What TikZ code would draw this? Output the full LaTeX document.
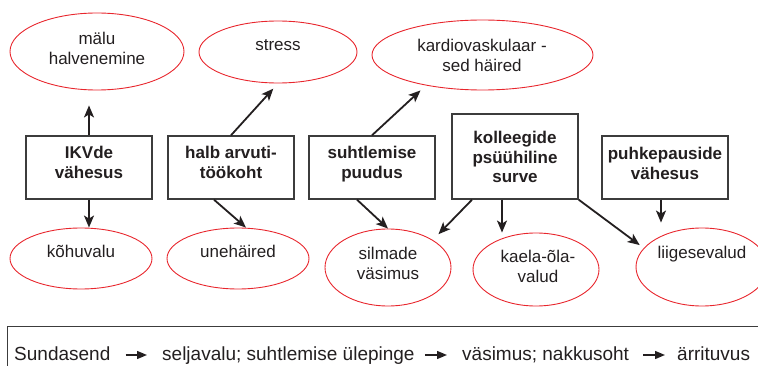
\documentclass[tikz,border=0pt]{standalone}
\usepackage{fontspec}
\setmainfont{Liberation Sans}
\usetikzlibrary{shapes.geometric,arrows.meta,calc}
\definecolor{ink}{HTML}{231F20}
\definecolor{ered}{HTML}{E8262D}
\definecolor{boxgray}{HTML}{3C3C3C}
\newcommand\mlines[1]{\begin{tabular}[t]{@{}c@{}}#1\end{tabular}}
\tikzset{
 ell/.style={draw=ered, line width=0.9pt, ellipse, inner sep=0pt},
 etext/.style={anchor=base, inner sep=0pt, text=ink, font=\fontsize{17}{19.5}\selectfont},
 box/.style={draw=boxgray, line width=1.4pt, rectangle, minimum width=126pt, minimum height=63pt, inner sep=0pt},
 btext/.style={anchor=base, inner sep=0pt, text=ink, font=\bfseries\fontsize{17}{20}\selectfont},
 arr/.style={draw=ink, line width=1.8pt, -{Stealth[length=12pt,width=10pt,inset=3pt]}},
 stext/.style={anchor=base west, inner sep=0pt, text=ink, font=\fontsize{19}{22}\selectfont, text height=14pt, text depth=4pt},
 sarr/.style={draw=ink, line width=1.4pt, -{Triangle[length=10pt,width=8pt]}},
 legendbox/.style={draw=boxgray, line width=1.4pt, rectangle, anchor=north west, minimum width=790pt, minimum height=80pt, inner sep=0pt},
}
\begin{document}
\begin{tikzpicture}[x=1pt,y=-1pt]
\useasboundingbox (0,0) rectangle (758,366);
\clip (0,0) rectangle (758,366);

% ellipses (top row)
\node[ell, minimum width=174pt, minimum height=77pt] (malu) at (97,51.5) {};
\node[etext] (malut) at (97,45) {\mlines{mälu\\halvenemine}};
\node[ell, minimum width=158pt, minimum height=62pt] (stress) at (278,52) {};
\node[etext] (stresst) at (278,51) {stress};
\node[ell, minimum width=221pt, minimum height=70pt] (kardio) at (482.5,55) {};
\node[etext] (kardiot) at (482,52) {\mlines{kardiovaskulaar -\\sed häired}};

% ellipses (bottom row)
\node[ell, minimum width=142pt, minimum height=61pt] (kohu) at (81,258.5) {};
\node[etext] (kohut) at (81,258) {kõhuvalu};
\node[ell, minimum width=142pt, minimum height=61pt] (une) at (238,258.5) {};
\node[etext] (unet) at (238,258) {unehäired};
\node[ell, minimum width=126pt, minimum height=77pt] (silm) at (388,267.5) {};
\node[etext] (silmt) at (388,260) {\mlines{silmade\\väsimus}};
\node[ell, minimum width=126pt, minimum height=73pt] (kaela) at (536,269.5) {};
\node[etext] (kaelat) at (538,263) {\mlines{kaela-õla-\\valud}};
\node[ell, minimum width=132pt, minimum height=78pt] (liig) at (702,267) {};
\node[etext] (liigt) at (702,259) {liigesevalud};

% boxes
\node[box] (ikv) at (89,167.5) {};
\node[btext] (ikvt) at (89,159) {\mlines{IKVde\\vähesus}};
\node[box] (halb) at (231,167.5) {};
\node[btext] (halbt) at (231,159) {\mlines{halb arvuti-\\töökoht}};
\node[box] (suht) at (372,167.5) {};
\node[btext] (suhtt) at (372,159) {\mlines{suhtlemise\\puudus}};
\node[box, minimum height=85pt] (koll) at (515,156.5) {};
\node[btext, font=\bfseries\fontsize{17}{19.5}\selectfont] (kollt) at (515,144) {\mlines{kolleegide\\psüühiline\\surve}};
\node[box] (puhk) at (665,167.5) {};
\node[btext, font=\bfseries\fontsize{17}{19.5}\selectfont] (puhkt) at (665,160) {\mlines{puhkepauside\\vähesus}};

% arrows
\draw[arr, shorten >=15pt] (ikv.north) -- (ikv.north |- malu.south);
\draw[arr] (ikv.south) -- (ikv.south |- kohu.north);
\draw[arr, shorten >=7pt] (halb.north) -- (stress.south);
\draw[arr] ([xshift=-17pt]halb.south) -- ([xshift=8pt]une.north);
\draw[arr] (suht.north) -- ([xshift=-62pt]kardio.south);
\draw[arr] ([xshift=-15pt]suht.south) -- (silm.north);
\draw[arr, shorten >=8pt] ([xshift=-43pt]koll.south) -- (silm.north east);
\draw[arr] ([xshift=-13pt]koll.south) -- ([xshift=-13pt]koll.south |- kaela.north);
\draw[arr, shorten >=5pt] (koll.south east) -- (liig.162);
\draw[arr, shorten >=5pt] ([xshift=-4pt]puhk.south) -- ([xshift=-4pt]puhk.south |- liig.north);

% legend line
\node[legendbox] (legend) at (7,326) {};
\node[stext] (s1) at (14,360) {Sundasend};
\node[stext] (s2) at (162,360) {seljavalu; suhtlemise ülepinge};
\node[stext] (s3) at (462,360) {väsimus; nakkusoht};
\node[stext] (s4) at (677,360) {ärrituvus};
\draw[sarr, shorten <=15pt, shorten >=15pt] (s1.east) -- (s2.west);
\draw[sarr, shorten <=10pt, shorten >=15pt] (s2.east) -- (s3.west);
\draw[sarr, shorten <=14pt, shorten >=12pt] (s3.east) -- (s4.west);
\end{tikzpicture}
\end{document}
